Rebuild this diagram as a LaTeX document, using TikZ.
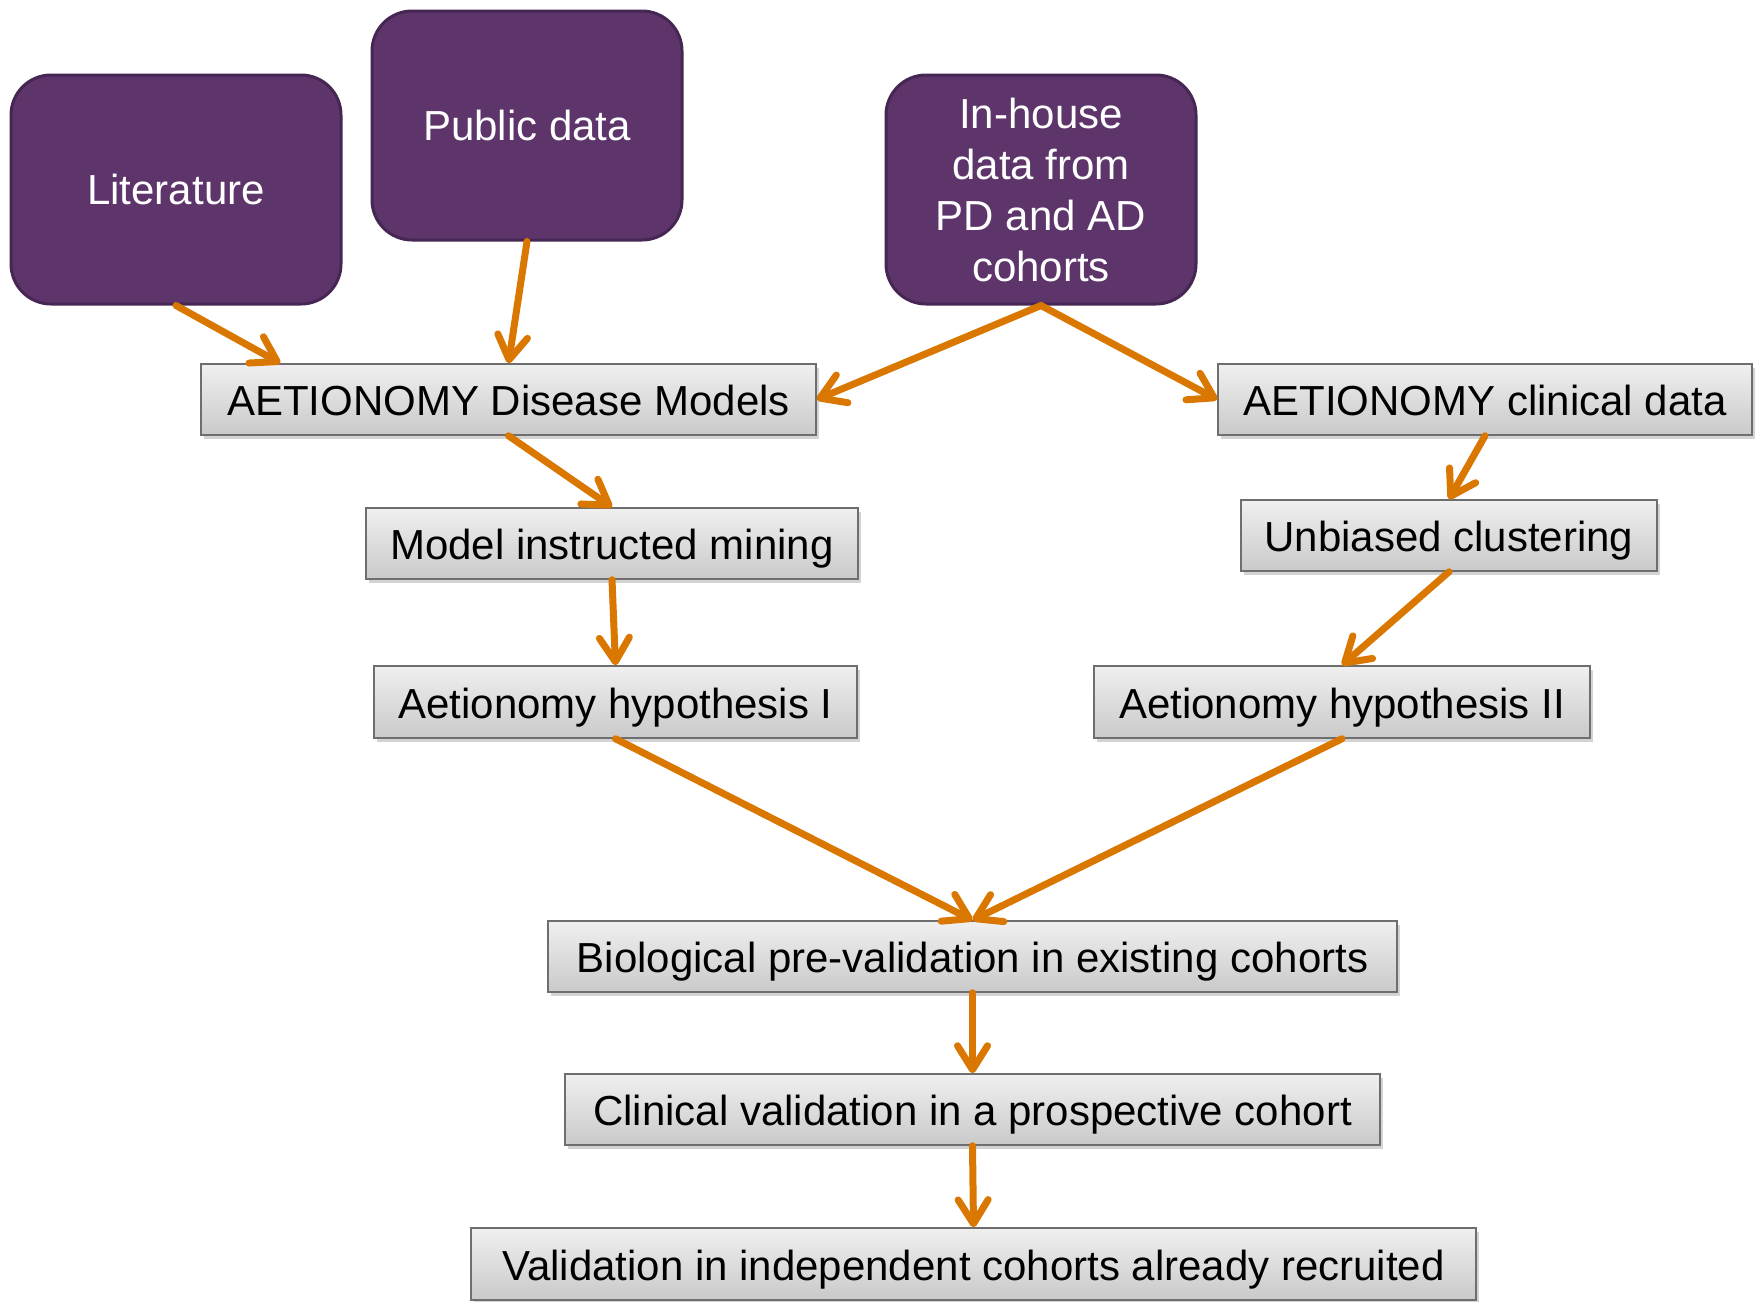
\documentclass[tikz,border=0pt]{standalone}
\usepackage{fontspec}
\setmainfont{Liberation Sans}
\usetikzlibrary{arrows.meta,shadows}
\definecolor{purp}{RGB}{93,53,107}
\definecolor{purpdark}{RGB}{70,38,82}
\definecolor{arr}{RGB}{217,119,0}
\definecolor{boxline}{RGB}{110,110,110}
\begin{document}
\begin{tikzpicture}[x=1pt,y=-1pt,
  src/.style={draw=purpdark,line width=3pt,fill=purp,rounded corners=40pt,text=white,
    font=\fontsize{42}{51}\selectfont,align=center,inner sep=0pt},
  gbox/.style={draw=boxline,line width=1.5pt,top color=gray!12,bottom color=gray!42,
    font=\fontsize{42}{51}\selectfont,inner sep=0pt,minimum height=71pt,
    text height=38pt,text depth=6pt,
    drop shadow={shadow xshift=3pt,shadow yshift=-4pt,opacity=0.35}},
  con/.style={draw=arr,line width=7pt,line cap=round,
    -{Straight Barb[length=24pt,width=30pt,line width=7pt,line cap=round,round]}}]
\useasboundingbox (0,0) rectangle (1764,1301);
\node[src,minimum width=330pt,minimum height=229pt] (lit) at (176,189.5) {Literature};
\node[src,minimum width=310pt,minimum height=229pt] (pub) at (527,125.5) {Public data};
\node[src,minimum width=310pt,minimum height=229pt] (inh) at (1041,189.5) {In-house\\data from\\PD and AD\\cohorts};
\node[gbox,minimum width=615pt] (adm) at (508.5,399.5) {AETIONOMY Disease Models};
\node[gbox,minimum width=534pt] (acd) at (1485,399.5) {AETIONOMY clinical data};
\node[gbox,minimum width=492pt] (mim) at (612,543.5) {Model instructed mining};
\node[gbox,minimum width=416pt] (ucl) at (1449,535.5) {Unbiased clustering};
\node[gbox,minimum width=483pt,minimum height=72pt] (h1) at (615.5,702) {Aetionomy hypothesis I};
\node[gbox,minimum width=496pt,minimum height=72pt] (h2) at (1342,702) {Aetionomy hypothesis II};
\node[gbox,minimum width=849pt] (bio) at (972.5,956.5) {Biological pre-validation in existing cohorts};
\node[gbox,minimum width=815pt] (cli) at (972.5,1109.5) {Clinical validation in a prospective cohort};
\node[gbox,minimum width=1005pt,minimum height=72pt] (val) at (973.5,1264) {Validation in independent cohorts already recruited};
\draw[con] (lit.south) -- ([xshift=80pt]adm.north west);
\draw[con] (pub.south) -- (adm.north);
\draw[con] (inh.south) -- (adm.east);
\draw[con] (inh.south) -- (acd.west);
\draw[con] (adm.south) -- (mim.north);
\draw[con] (mim.south) -- (h1.north);
\draw[con] (acd.south) -- (ucl.north);
\draw[con] (ucl.south) -- (h2.north);
\draw[con] (h1.south) -- (bio.north);
\draw[con] (h2.south) -- (bio.north);
\draw[con] (bio.south) -- (cli.north);
\draw[con] (cli.south) -- (val.north);
\end{tikzpicture}
\end{document}
